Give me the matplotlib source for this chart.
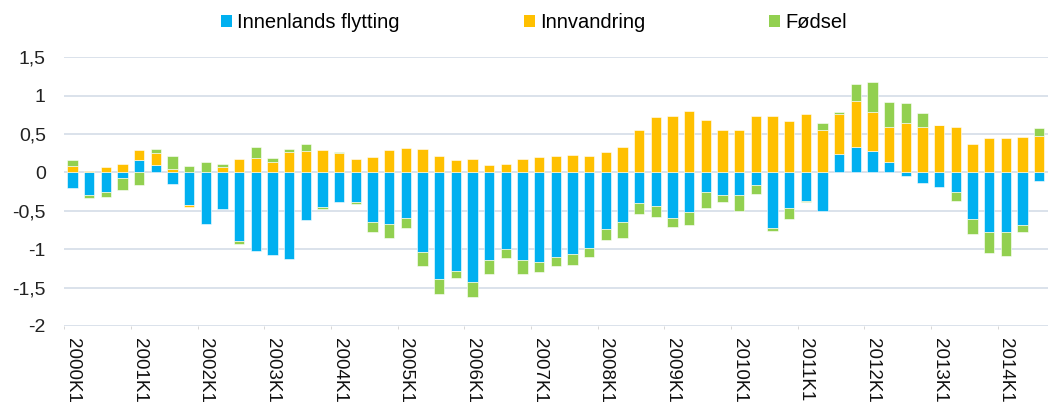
import numpy as np
import matplotlib
matplotlib.use('Agg')
import matplotlib.pyplot as plt
from matplotlib.patches import Patch

plt.rcParams['font.family'] = ['Liberation Sans', 'DejaVu Sans']

# quarters 2000K1 .. 2014K3
quarters = [f'{y}K{q}' for y in range(2000, 2015) for q in range(1, 5)][:59]

innenlands = [-0.20, -0.30, -0.25, -0.08, 0.165, 0.09, -0.15, -0.42,
              -0.67, -0.48, -0.89, -1.03, -1.07, -1.13, -0.62, -0.45,
              -0.38, -0.39, -0.64, -0.67, -0.59, -1.04, -1.39, -1.29,
              -1.43, -1.14, -1.00, -1.14, -1.17, -1.10, -1.06, -0.98,
              -0.74, -0.64, -0.40, -0.44, -0.59, -0.51, -0.26, -0.30,
              -0.30, -0.17, -0.72, -0.46, -0.37, -0.50, 0.24, 0.33,
              0.28, 0.14, -0.05, -0.14, -0.19, -0.26, -0.61, -0.77,
              -0.77, -0.68, -0.11]
innvandring = [0.08, 0.015, 0.065, 0.11, 0.13, 0.16, 0.05, -0.035,
               0.0, 0.065, 0.18, 0.19, 0.14, 0.26, 0.28, 0.29,
               0.25, 0.18, 0.20, 0.29, 0.32, 0.30, 0.21, 0.165,
               0.17, 0.10, 0.11, 0.175, 0.195, 0.21, 0.225, 0.21,
               0.26, 0.33, 0.555, 0.725, 0.735, 0.795, 0.68, 0.55,
               0.55, 0.735, 0.73, 0.67, 0.76, 0.555, 0.525, 0.595,
               0.51, 0.45, 0.64, 0.585, 0.61, 0.585, 0.37, 0.45,
               0.45, 0.455, 0.47]
fodsel = [0.08, -0.035, -0.07, -0.15, -0.16, 0.06, 0.16, 0.08,
          0.14, 0.05, -0.04, 0.135, 0.05, 0.05, 0.095, -0.025,
          0.01, -0.025, -0.14, -0.19, -0.135, -0.18, -0.195, -0.09,
          -0.195, -0.18, -0.11, -0.18, -0.13, -0.12, -0.145, -0.125,
          -0.145, -0.21, -0.14, -0.145, -0.115, -0.18, -0.20, -0.09,
          -0.205, -0.115, -0.045, -0.15, -0.02, 0.085, 0.025, 0.23,
          0.38, 0.33, 0.26, 0.185, 0.0, -0.115, -0.195, -0.285,
          -0.315, -0.09, 0.11]

series = [('Innenlands flytting', innenlands, '#00B0F0'),
          ('Innvandring', innvandring, '#FFC000'),
          ('Fødsel', fodsel, '#92D050')]

yticks = [1.5, 1, 0.5, 0, -0.5, -1, -1.5, -2]
ytick_labels = ['1,5', '1', '0,5', '0', '-0,5', '-1', '-1,5', '-2']

fig = plt.figure(figsize=(10.48, 4.08), dpi=100)
ax = fig.add_axes([0.061, 0.201, 0.939, 0.659])

x = np.arange(len(quarters))
pos_bottom = np.zeros(len(x))
neg_bottom = np.zeros(len(x))
handles = []
for name, vals, col in series:
    v = np.array(vals)
    bottom = np.where(v >= 0, pos_bottom, neg_bottom)
    ax.bar(x, v, 0.62, bottom=bottom, color=col, edgecolor='white',
           linewidth=0.4, zorder=3)
    pos_bottom += np.where(v >= 0, v, 0)
    neg_bottom += np.where(v < 0, v, 0)
    handles.append(Patch(facecolor=col, label=name))

ax.set_ylim(-2, 1.5)
ax.set_xlim(-0.52, len(x) - 0.48)
ax.set_yticks(yticks)
ax.set_yticklabels(ytick_labels, fontsize=14, color='#222222')
ax.grid(axis='y', color='#DAE2EB', linewidth=1.4, zorder=0)
ax.set_axisbelow(True)
for s in ax.spines.values():
    s.set_visible(False)
ax.tick_params(axis='y', length=0, pad=13)

ax.set_xticks(x[::4])
ax.set_xticklabels(quarters[::4], rotation=270, fontsize=13.5, color='#111111')
ax.set_xticks(np.arange(-0.5, len(x), 4), minor=True)
ax.tick_params(axis='x', which='major', length=0, pad=9)
ax.tick_params(axis='x', which='minor', length=2, color='#D0D0D0')

fig.legend(handles=handles, loc='center', bbox_to_anchor=(534 / 1048, 1 - 23 / 408),
           ncol=3, frameon=False, fontsize=14.5, handlelength=0.55,
           handleheight=0.55, handletextpad=0.25, columnspacing=6.15)

fig.savefig('out.png', dpi=100)
